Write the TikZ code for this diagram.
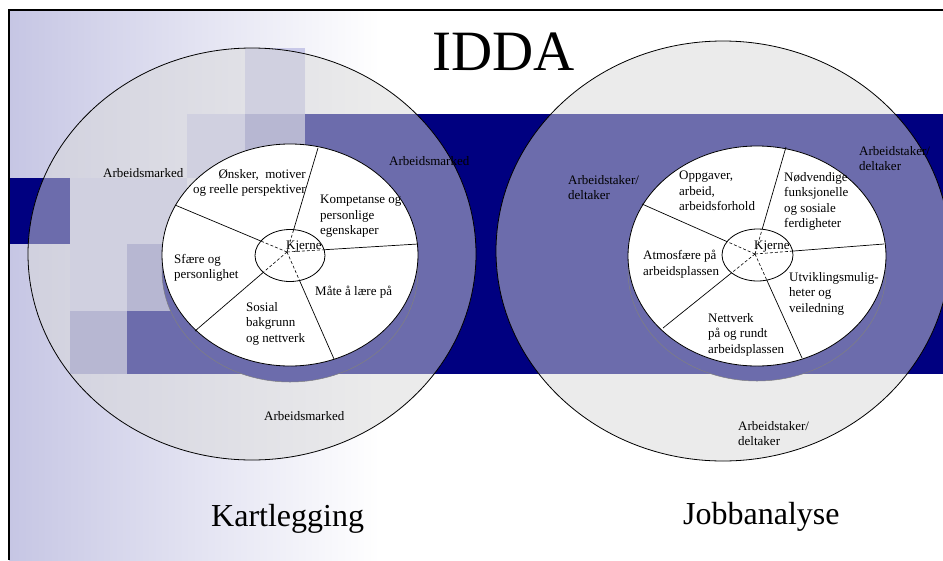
\documentclass[tikz,border=0pt]{standalone}
\usepackage{fontspec}
\setmainfont{Liberation Serif}
\usetikzlibrary{shapes.geometric}
\definecolor{navy}{RGB}{0,0,128}
\definecolor{lav}{RGB}{198,198,228}
\definecolor{sqA}{RGB}{200,200,232}
\definecolor{sqB}{RGB}{150,150,204}
\definecolor{ringfill}{RGB}{217,217,217}
\definecolor{shadowc}{RGB}{108,108,172}
\begin{document}
\begin{tikzpicture}[x=1pt,y=-1pt,
  ring/.style={fill=ringfill, fill opacity=0.5, draw=black, line width=0.8pt},
  shadowdisk/.style={fill=shadowc, draw=gray, line width=0.5pt},
  piedisk/.style={fill=white, draw=black, line width=0.8pt},
  core/.style={ellipse, fill=white, draw=black, line width=0.8pt, inner sep=0pt},
  divider/.style={draw=black, line width=0.7pt},
  coreline/.style={draw=black, line width=0.6pt, dash pattern=on 3pt off 2pt},
  lbl/.style={font=\fontsize{13}{15.5}\selectfont, align=left, anchor=north west, inner sep=0pt},
  title/.style={font=\fontsize{32}{36}\selectfont, anchor=base west, inner sep=0pt},
  frameline/.style={draw=black, line width=2.5pt}
]
\useasboundingbox (0,0) rectangle (943,560);
\fill[white] (0,0) rectangle (943,560);
% background gradient
\shade[left color=lav, right color=white] (9,10) rectangle (380,560);
% decorative squares
\fill[sqA] (245,48) rectangle (305,114);
\fill[sqA] (187,114) rectangle (245,178);
\fill[sqB] (245,114) rectangle (305,178);
\fill[sqA] (127,178) rectangle (187,244);
\fill[sqA] (70,178) rectangle (127,244);
\fill[sqA] (70,244) rectangle (127,311);
\fill[sqB] (127,244) rectangle (187,311);
\fill[sqB] (70,311) rectangle (127,374);
% navy band
\fill[navy] (305,114) rectangle (943,374);
\fill[navy] (9,178) rectangle (70,244);
\fill[navy] (127,311) rectangle (305,374);
% outer rings
\path[ring] (252,254) ellipse [x radius=224pt, y radius=206pt];
\path[ring] (723,251) ellipse [x radius=227pt, y radius=210pt];
% pie shadows
\path[shadowdisk] (290,271) ellipse [x radius=128pt, y radius=111pt];
\path[shadowdisk] (757,271) ellipse [x radius=129pt, y radius=110pt];
% pies
\path[piedisk] (290,255) ellipse [x radius=128pt, y radius=111pt];
\path[piedisk] (757,256) ellipse [x radius=129pt, y radius=110pt];
% coordinates
\coordinate (cL) at (287,252);
\coordinate (p1) at (318,148);
\coordinate (p2) at (175,205);
\coordinate (p3) at (418,244);
\coordinate (p4) at (195,331);
\coordinate (p5) at (334,359);
\coordinate (cR) at (755,254);
\coordinate (q1) at (786,147);
\coordinate (q2) at (642,204);
\coordinate (q3) at (884,244);
\coordinate (q4) at (663,328);
\coordinate (q5) at (802,358);
% dividers
\foreach \p in {p1,p2,p3,p4,p5} \draw[divider] (\p) -- (cL);
\foreach \q in {q1,q2,q3,q4,q5} \draw[divider] (\q) -- (cR);
% cores
\node[core, minimum width=70pt, minimum height=52pt] (coreL) at (290,255.5) {};
\node[core, minimum width=71pt, minimum height=52pt] (coreR) at (757.5,255) {};
\begin{scope}
\clip (290,255.5) ellipse [x radius=34.5pt, y radius=25.5pt];
\foreach \p in {p1,p2,p3,p4,p5} \draw[coreline] (cL) -- (\p);
\end{scope}
\begin{scope}
\clip (757.5,255) ellipse [x radius=35pt, y radius=25.5pt];
\foreach \q in {q1,q2,q3,q4,q5} \draw[coreline] (cR) -- (\q);
\end{scope}
% left labels
\node[lbl, anchor=north east, align=right] (onsker) at (306,169) {Ønsker,\ \ motiver\\og reelle perspektiver};
\node[lbl] (kompetanse) at (320,195) {Kompetanse og\\personlige\\egenskaper};
\node[lbl] (sfaere) at (174,254) {Sfære og\\personlighet};
\node[lbl] (sosial) at (246,302) {Sosial\\bakgrunn\\og nettverk};
\node[lbl] (maate) at (315,286) {Måte å lære på};
\node[lbl] (kjerneL) at (286,241) {Kjerne};
\node[lbl] (amUL) at (103,168) {Arbeidsmarked};
\node[lbl] (amR) at (389,156) {Arbeidsmarked};
\node[lbl] (amB) at (264,411) {Arbeidsmarked};
% right labels
\node[lbl] (oppgaver) at (679,171) {Oppgaver,\\arbeid,\\arbeidsforhold};
\node[lbl] (nodvendige) at (784,172) {Nødvendige\\funksjonelle\\og sosiale\\ferdigheter};
\node[lbl] (kjerneR) at (754,241) {Kjerne};
\node[lbl] (atmosfaere) at (643,250) {Atmosfære på\\arbeidsplassen};
\node[lbl] (utvikling) at (789,272) {Utviklingsmulig-\\heter og\\veiledning};
\node[lbl] (nettverk) at (708,313) {Nettverk\\på og rundt\\arbeidsplassen};
\node[lbl] (adL) at (568,175) {Arbeidstaker/\\deltaker};
\node[lbl] (adTR) at (859,146) {Arbeidstaker/\\deltaker};
\node[lbl] (adB) at (738,421) {Arbeidstaker/\\deltaker};
% titles
\node[title, font=\fontsize{57}{60}\selectfont] (idda) at (432,70) {IDDA};
\node[title] (kartlegging) at (211,526) {Kartlegging};
\node[title] (jobbanalyse) at (683,524) {Jobbanalyse};
% slide frame
\draw[frameline] (9,560) -- (9,10) -- (943,10);
\end{tikzpicture}
\end{document}
